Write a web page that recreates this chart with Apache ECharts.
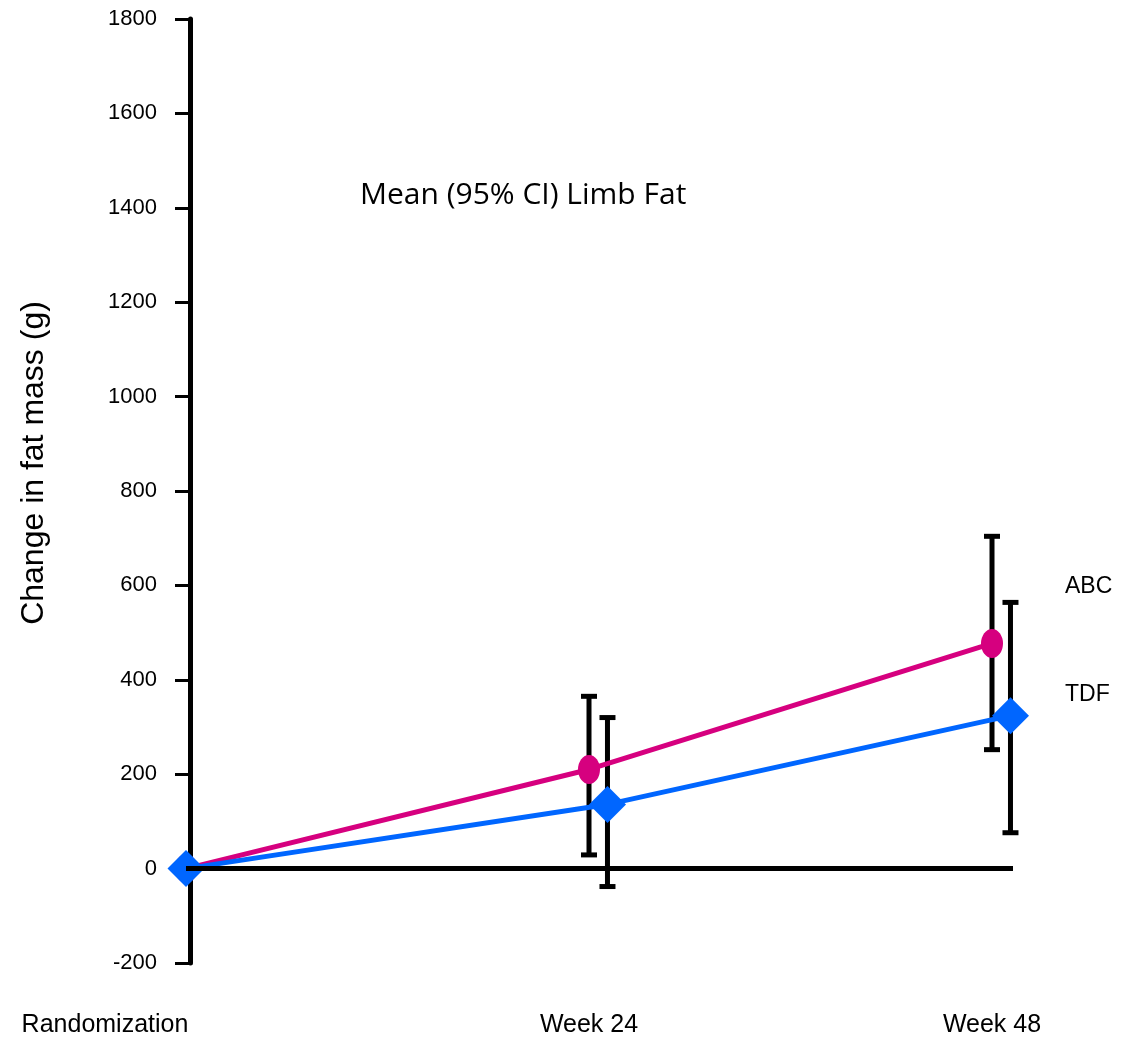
<!DOCTYPE html>
<html>
<head>
<meta charset="utf-8">
<title>Mean (95% CI) Limb Fat</title>
<script src="https://cdn.jsdelivr.net/npm/echarts@6/dist/echarts.min.js"></script>
<style>
  html, body { margin: 0; padding: 0; background: #fff; }
  #chart { width: 1126px; height: 1038px; }
</style>
</head>
<body>
<div id="chart"></div>
<script>
// Visit timepoints (weeks since randomization) and their labels
const weeks = [0, 24, 48];
const visitLabels = ['Randomization', 'Week 24', 'Week 48'];

// Mean change in limb fat mass (g) with 95% CI
const abcMean = [0, 210, 477];
const abcLow  = [null, 29, 252];
const abcHigh = [null, 365, 704];

const tdfMean = [0, 136, 324];
const tdfLow  = [null, -38, 76];
const tdfHigh = [null, 320, 564];

// Y axis ticks
const yMin = -200, yMax = 1800, yStep = 200;

// Horizontal nudge (in weeks) so the TDF markers sit beside the ABC ones
const TDF_DODGE = 1.1;

const FONT = '"Liberation Sans", Arial, sans-serif';
const ABC_COLOR = '#D6007F';
const TDF_COLOR = '#0066FF';

function dodged(w) { return w > 0 ? w + TDF_DODGE : w; }

const abcLine = weeks.map((w, i) => [w, abcMean[i]]);
const tdfLine = weeks.map((w, i) => [dodged(w), tdfMean[i]]);

const abcErr = weeks.map((w, i) => [w, abcLow[i], abcHigh[i]]).filter(d => d[1] != null);
const tdfErr = weeks.map((w, i) => [dodged(w), tdfLow[i], tdfHigh[i]]).filter(d => d[1] != null);

function errorBar(params, api) {
  const x = api.value(0);
  const lo = api.coord([x, api.value(1)]);
  const hi = api.coord([x, api.value(2)]);
  const cap = 8;
  const style = { stroke: '#000', lineWidth: 5 };
  return {
    type: 'group',
    children: [
      { type: 'line', shape: { x1: lo[0], y1: lo[1], x2: hi[0], y2: hi[1] }, style },
      { type: 'line', shape: { x1: lo[0] - cap, y1: lo[1], x2: lo[0] + cap, y2: lo[1] }, style },
      { type: 'line', shape: { x1: hi[0] - cap, y1: hi[1], x2: hi[0] + cap, y2: hi[1] }, style }
    ]
  };
}

const chart = echarts.init(document.getElementById('chart'), null, { renderer: 'canvas' });

chart.setOption({
  animation: false,
  backgroundColor: '#fff',
  title: {
    text: 'Mean (95% CI) Limb Fat',
    left: 355,
    top: 175,
    textStyle: { fontFamily: '"Open Sans", sans-serif', fontSize: 30, fontWeight: 'normal', color: '#000' }
  },
  legend: {
    orient: 'vertical',
    left: 1055,
    top: 570,
    icon: 'none',
    itemWidth: 0,
    itemHeight: 24,
    itemGap: 84,
    selectedMode: false,
    data: ['ABC', 'TDF'],
    textStyle: { fontFamily: FONT, fontSize: 23, color: '#000', lineHeight: 24 }
  },
  grid: { left: 186, right: 113, top: 19, bottom: 74, containLabel: false },
  xAxis: {
    type: 'value',
    min: 0,
    max: 49.25,
    axisLine: { show: false },
    axisTick: { show: false },
    splitLine: { show: false },
    axisLabel: {
      customValues: weeks,
      margin: 50,
      fontFamily: FONT,
      fontSize: 25,
      color: '#000',
      formatter: v => {
        const i = weeks.indexOf(v);
        if (i < 0) return '';
        return i === 0 ? '{r|' + visitLabels[i] + '}' : visitLabels[i];
      },
      rich: {
        r: { fontFamily: FONT, fontSize: 25, color: '#000', padding: [0, 162, 0, 0] }
      }
    }
  },
  yAxis: {
    type: 'value',
    min: yMin,
    max: yMax,
    interval: yStep,
    offset: -4,
    name: 'Change in fat mass (g)',
    nameLocation: 'middle',
    nameRotate: 90,
    nameGap: 140,
    nameTextStyle: { fontFamily: FONT, fontSize: 32, color: '#000', padding: [0, 0, 0, 56] },
    axisLine: { show: true, lineStyle: { color: '#000', width: 5 } },
    axisTick: { show: true, length: 15, lineStyle: { color: '#000', width: 3 } },
    axisLabel: { margin: 33, fontFamily: FONT, fontSize: 22, color: '#000', formatter: v => String(v) },
    splitLine: { show: false }
  },
  series: [
    {
      name: 'ABC CI',
      type: 'custom',
      renderItem: errorBar,
      data: abcErr,
      z: 1,
      silent: true,
      clip: false,
      markLine: {
        silent: true,
        symbol: 'none',
        label: { show: false },
        lineStyle: { color: '#000', width: 5, type: 'solid' },
        data: [{ yAxis: 0 }]
      }
    },
    {
      name: 'TDF CI',
      type: 'custom',
      renderItem: errorBar,
      data: tdfErr,
      z: 1,
      silent: true,
      clip: false
    },
    {
      name: 'ABC',
      type: 'line',
      data: abcLine,
      color: ABC_COLOR,
      symbol: 'circle',
      symbolSize: [22, 29],
      showAllSymbol: true,
      clip: false,
      z: 3,
      lineStyle: { color: ABC_COLOR, width: 5 },
      itemStyle: { color: ABC_COLOR }
    },
    {
      name: 'TDF',
      type: 'line',
      data: tdfLine,
      color: TDF_COLOR,
      symbol: 'diamond',
      symbolSize: [37, 37],
      showAllSymbol: true,
      clip: false,
      z: 4,
      lineStyle: { color: TDF_COLOR, width: 5 },
      itemStyle: { color: TDF_COLOR }
    }
  ]
});
</script>
</body>
</html>
